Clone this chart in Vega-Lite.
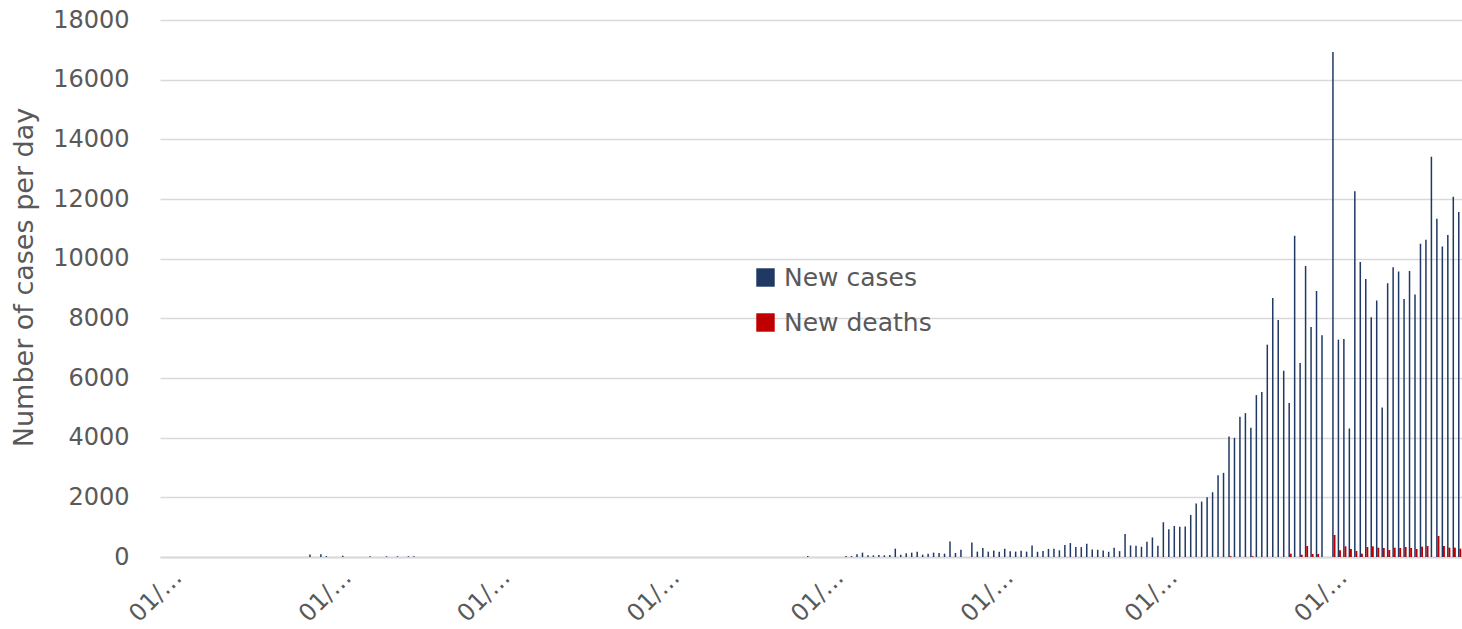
{
  "$schema": "https://vega.github.io/schema/vega-lite/v6.json",
  "width": 1302,
  "height": 537,
  "autosize": {"type": "none"},
  "padding": {"left": 160, "top": 20, "right": 0, "bottom": 72},
  "background": "white",
  "config": {"view": {"stroke": null}, "font": "DejaVu Sans"},
  "data": {"values": [
    {"date": "2020-01-27", "New cases": 80, "New deaths": 0},
    {"date": "2020-01-29", "New cases": 90, "New deaths": 0},
    {"date": "2020-01-30", "New cases": 30, "New deaths": 0},
    {"date": "2020-02-02", "New cases": 45, "New deaths": 0},
    {"date": "2020-02-07", "New cases": 25, "New deaths": 0},
    {"date": "2020-02-10", "New cases": 25, "New deaths": 0},
    {"date": "2020-02-12", "New cases": 25, "New deaths": 0},
    {"date": "2020-02-14", "New cases": 25, "New deaths": 0},
    {"date": "2020-02-15", "New cases": 25, "New deaths": 0},
    {"date": "2020-04-27", "New cases": 30, "New deaths": 0},
    {"date": "2020-05-04", "New cases": 30, "New deaths": 0},
    {"date": "2020-05-05", "New cases": 30, "New deaths": 0},
    {"date": "2020-05-06", "New cases": 90, "New deaths": 0},
    {"date": "2020-05-07", "New cases": 146, "New deaths": 0},
    {"date": "2020-05-08", "New cases": 56, "New deaths": 0},
    {"date": "2020-05-09", "New cases": 56, "New deaths": 0},
    {"date": "2020-05-10", "New cases": 67, "New deaths": 0},
    {"date": "2020-05-11", "New cases": 56, "New deaths": 0},
    {"date": "2020-05-12", "New cases": 67, "New deaths": 0},
    {"date": "2020-05-13", "New cases": 281, "New deaths": 0},
    {"date": "2020-05-14", "New cases": 79, "New deaths": 0},
    {"date": "2020-05-15", "New cases": 124, "New deaths": 0},
    {"date": "2020-05-16", "New cases": 146, "New deaths": 0},
    {"date": "2020-05-17", "New cases": 180, "New deaths": 0},
    {"date": "2020-05-18", "New cases": 79, "New deaths": 0},
    {"date": "2020-05-19", "New cases": 112, "New deaths": 0},
    {"date": "2020-05-20", "New cases": 146, "New deaths": 0},
    {"date": "2020-05-21", "New cases": 135, "New deaths": 0},
    {"date": "2020-05-22", "New cases": 112, "New deaths": 0},
    {"date": "2020-05-23", "New cases": 517, "New deaths": 0},
    {"date": "2020-05-24", "New cases": 135, "New deaths": 0},
    {"date": "2020-05-25", "New cases": 247, "New deaths": 0},
    {"date": "2020-05-27", "New cases": 483, "New deaths": 0},
    {"date": "2020-05-28", "New cases": 180, "New deaths": 0},
    {"date": "2020-05-29", "New cases": 303, "New deaths": 0},
    {"date": "2020-05-30", "New cases": 180, "New deaths": 0},
    {"date": "2020-05-31", "New cases": 220, "New deaths": 0},
    {"date": "2020-06-01", "New cases": 175, "New deaths": 0},
    {"date": "2020-06-02", "New cases": 275, "New deaths": 0},
    {"date": "2020-06-03", "New cases": 195, "New deaths": 0},
    {"date": "2020-06-04", "New cases": 180, "New deaths": 0},
    {"date": "2020-06-05", "New cases": 208, "New deaths": 0},
    {"date": "2020-06-06", "New cases": 180, "New deaths": 0},
    {"date": "2020-06-07", "New cases": 383, "New deaths": 0},
    {"date": "2020-06-08", "New cases": 175, "New deaths": 0},
    {"date": "2020-06-09", "New cases": 203, "New deaths": 0},
    {"date": "2020-06-10", "New cases": 270, "New deaths": 0},
    {"date": "2020-06-11", "New cases": 276, "New deaths": 0},
    {"date": "2020-06-12", "New cases": 225, "New deaths": 0},
    {"date": "2020-06-13", "New cases": 400, "New deaths": 0},
    {"date": "2020-06-14", "New cases": 467, "New deaths": 0},
    {"date": "2020-06-15", "New cases": 332, "New deaths": 0},
    {"date": "2020-06-16", "New cases": 332, "New deaths": 0},
    {"date": "2020-06-17", "New cases": 445, "New deaths": 0},
    {"date": "2020-06-18", "New cases": 254, "New deaths": 0},
    {"date": "2020-06-19", "New cases": 242, "New deaths": 0},
    {"date": "2020-06-20", "New cases": 220, "New deaths": 0},
    {"date": "2020-06-21", "New cases": 175, "New deaths": 0},
    {"date": "2020-06-22", "New cases": 310, "New deaths": 0},
    {"date": "2020-06-23", "New cases": 197, "New deaths": 0},
    {"date": "2020-06-24", "New cases": 772, "New deaths": 0},
    {"date": "2020-06-25", "New cases": 388, "New deaths": 0},
    {"date": "2020-06-26", "New cases": 378, "New deaths": 0},
    {"date": "2020-06-27", "New cases": 343, "New deaths": 0},
    {"date": "2020-06-28", "New cases": 512, "New deaths": 0},
    {"date": "2020-06-29", "New cases": 655, "New deaths": 0},
    {"date": "2020-06-30", "New cases": 378, "New deaths": 0},
    {"date": "2020-07-01", "New cases": 1165, "New deaths": 0},
    {"date": "2020-07-02", "New cases": 930, "New deaths": 0},
    {"date": "2020-07-03", "New cases": 1040, "New deaths": 0},
    {"date": "2020-07-04", "New cases": 1012, "New deaths": 0},
    {"date": "2020-07-05", "New cases": 1025, "New deaths": 0},
    {"date": "2020-07-06", "New cases": 1410, "New deaths": 0},
    {"date": "2020-07-07", "New cases": 1790, "New deaths": 0},
    {"date": "2020-07-08", "New cases": 1857, "New deaths": 0},
    {"date": "2020-07-09", "New cases": 2003, "New deaths": 0},
    {"date": "2020-07-10", "New cases": 2171, "New deaths": 0},
    {"date": "2020-07-11", "New cases": 2742, "New deaths": 0},
    {"date": "2020-07-12", "New cases": 2820, "New deaths": 0},
    {"date": "2020-07-13", "New cases": 4040, "New deaths": 30},
    {"date": "2020-07-14", "New cases": 3995, "New deaths": 0},
    {"date": "2020-07-15", "New cases": 4700, "New deaths": 0},
    {"date": "2020-07-16", "New cases": 4823, "New deaths": 0},
    {"date": "2020-07-17", "New cases": 4331, "New deaths": 30},
    {"date": "2020-07-18", "New cases": 5427, "New deaths": 0},
    {"date": "2020-07-19", "New cases": 5528, "New deaths": 0},
    {"date": "2020-07-20", "New cases": 7117, "New deaths": 0},
    {"date": "2020-07-21", "New cases": 8683, "New deaths": 0},
    {"date": "2020-07-22", "New cases": 7945, "New deaths": 0},
    {"date": "2020-07-23", "New cases": 6244, "New deaths": 0},
    {"date": "2020-07-24", "New cases": 5159, "New deaths": 112},
    {"date": "2020-07-25", "New cases": 10765, "New deaths": 0},
    {"date": "2020-07-26", "New cases": 6501, "New deaths": 78},
    {"date": "2020-07-27", "New cases": 9758, "New deaths": 369},
    {"date": "2020-07-28", "New cases": 7710, "New deaths": 100},
    {"date": "2020-07-29", "New cases": 8918, "New deaths": 100},
    {"date": "2020-07-30", "New cases": 7430, "New deaths": 0},
    {"date": "2020-08-01", "New cases": 16930, "New deaths": 738},
    {"date": "2020-08-02", "New cases": 7285, "New deaths": 224},
    {"date": "2020-08-03", "New cases": 7307, "New deaths": 358},
    {"date": "2020-08-04", "New cases": 4308, "New deaths": 268},
    {"date": "2020-08-05", "New cases": 12257, "New deaths": 201},
    {"date": "2020-08-06", "New cases": 9892, "New deaths": 112},
    {"date": "2020-08-07", "New cases": 9321, "New deaths": 335},
    {"date": "2020-08-08", "New cases": 8034, "New deaths": 358},
    {"date": "2020-08-09", "New cases": 8594, "New deaths": 313},
    {"date": "2020-08-10", "New cases": 5013, "New deaths": 302},
    {"date": "2020-08-11", "New cases": 9176, "New deaths": 235},
    {"date": "2020-08-12", "New cases": 9713, "New deaths": 313},
    {"date": "2020-08-13", "New cases": 9567, "New deaths": 302},
    {"date": "2020-08-14", "New cases": 8650, "New deaths": 335},
    {"date": "2020-08-15", "New cases": 9590, "New deaths": 302},
    {"date": "2020-08-16", "New cases": 8795, "New deaths": 268},
    {"date": "2020-08-17", "New cases": 10496, "New deaths": 347},
    {"date": "2020-08-18", "New cases": 10630, "New deaths": 369},
    {"date": "2020-08-19", "New cases": 13420, "New deaths": 0},
    {"date": "2020-08-20", "New cases": 11340, "New deaths": 704},
    {"date": "2020-08-21", "New cases": 10407, "New deaths": 369},
    {"date": "2020-08-22", "New cases": 10793, "New deaths": 313},
    {"date": "2020-08-23", "New cases": 12078, "New deaths": 313},
    {"date": "2020-08-24", "New cases": 11565, "New deaths": 280}
  ]},
  "transform": [
    {"fold": ["New cases", "New deaths"], "as": ["series", "value"]},
    {"filter": "datum.value > 0"}
  ],
  "encoding": {
    "x": {
      "field": "date",
      "type": "temporal",
      "scale": {"type": "utc", "domain": [1577707200000, 1598270400000], "padding": 0},
      "axis": {
        "values": [
          {"year": 2020, "month": 1, "date": 1, "utc": true},
          {"year": 2020, "month": 2, "date": 1, "utc": true},
          {"year": 2020, "month": 3, "date": 1, "utc": true},
          {"year": 2020, "month": 4, "date": 1, "utc": true},
          {"year": 2020, "month": 5, "date": 1, "utc": true},
          {"year": 2020, "month": 6, "date": 1, "utc": true},
          {"year": 2020, "month": 7, "date": 1, "utc": true},
          {"year": 2020, "month": 8, "date": 1, "utc": true}
        ],
        "labelExpr": "'01/…'",
        "labelAngle": -45,
        "labelFontSize": 24,
        "labelColor": "#595959",
        "labelPadding": 8,
        "labelOffset": 1,
        "ticks": false,
        "grid": false,
        "domainColor": "#D9D9D9",
        "domainWidth": 2,
        "title": null
      }
    },
    "y": {
      "field": "value",
      "type": "quantitative",
      "scale": {"domain": [0, 18000], "nice": false},
      "axis": {
        "values": [0, 2000, 4000, 6000, 8000, 10000, 12000, 14000, 16000, 18000],
        "format": "d",
        "labelFontSize": 24,
        "labelColor": "#595959",
        "labelPadding": 31,
        "ticks": false,
        "domain": false,
        "gridColor": "#D9D9D9",
        "gridWidth": 1.5,
        "title": "Number of cases per day",
        "titleFontSize": 27,
        "titleFontWeight": "normal",
        "titleColor": "#595959",
        "titleX": -128,
        "titleY": 257,
        "titleBaseline": "alphabetic"
      }
    },
    "color": {
      "field": "series",
      "type": "nominal",
      "scale": {"domain": ["New cases", "New deaths"], "range": ["#203864", "#C00000"]},
      "legend": {
        "orient": "none",
        "legendX": 593,
        "legendY": 245,
        "title": null,
        "symbolType": "square",
        "symbolSize": 340,
        "symbolStrokeWidth": 0,
        "symbolOpacity": 1,
        "labelFontSize": 25,
        "labelColor": "#595959",
        "labelOffset": 6,
        "rowPadding": 19,
        "padding": 0
      }
    }
  },
  "layer": [
    {"transform": [{"filter": "datum.series === 'New cases'"}], "mark": {"type": "bar", "width": 1.5, "xOffset": -0.5}},
    {"transform": [{"filter": "datum.series === 'New deaths'"}], "mark": {"type": "bar", "width": 1.9, "xOffset": 1.1}}
  ]
}
